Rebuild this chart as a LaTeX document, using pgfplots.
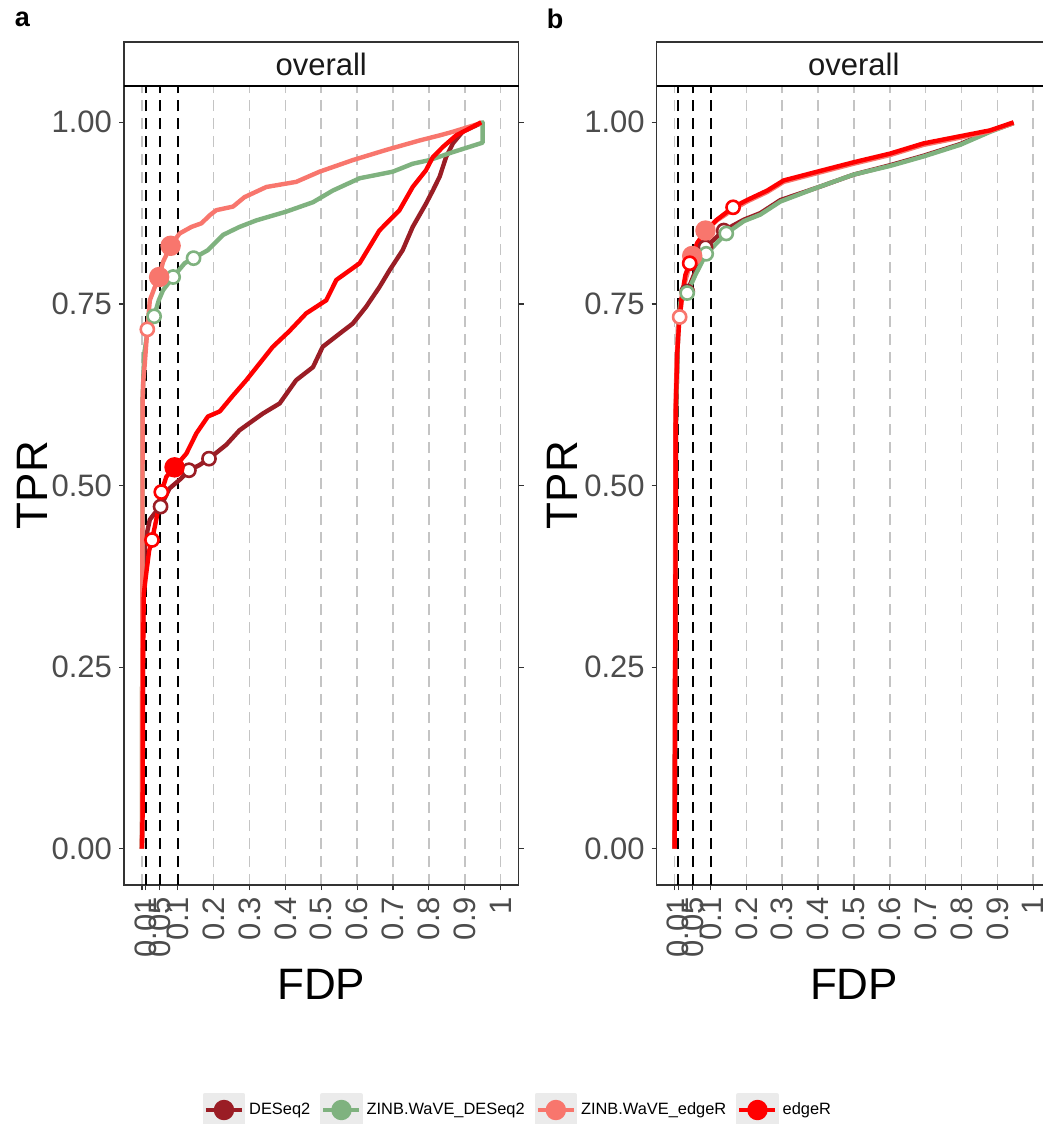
\documentclass[border=0pt]{standalone}
\usepackage{pgfplots}
\pgfplotsset{compat=1.18}
\usepackage{fontspec}
\setmainfont{Liberation Sans}
\definecolor{dR}{HTML}{9A1D25}
\definecolor{gR}{HTML}{7FB27F}
\definecolor{sA}{HTML}{F8766D}
\definecolor{rD}{HTML}{FF0000}
\definecolor{gridc}{HTML}{C4C4C4}
\definecolor{axc}{HTML}{333333}

\pgfplotsset{
  panel/.style={
    scale only axis, width=197.25pt, height=399.5pt,
    xmin=-0.05, xmax=1.05, ymin=-0.05, ymax=1.05,
    xtick={0,0.01,0.05,0.1,0.2,0.3,0.4,0.5,0.6,0.7,0.8,0.9,1},
    xticklabels={{},0.01,0.05,0.1,0.2,0.3,0.4,0.5,0.6,0.7,0.8,0.9,1},
    ytick={0,0.25,0.5,0.75,1},
    yticklabels={0.00,0.25,0.50,0.75,1.00},
    xtick pos=left, ytick pos=both, yticklabel pos=left,
    tick align=outside, major tick length=2.5pt,
    tick style={axc, line width=0.6pt},
    axis line style={axc, line width=0.6pt},
    xmajorgrids, major grid style={gridc, line width=0.8pt, dash pattern=on 5.5pt off 3.5pt},
    ticklabel style={font=\fontsize{15.5}{18}\selectfont, text=black!70},
    xticklabel style={rotate=90, anchor=east},
    every axis plot/.append style={line width=2.2pt, line join=round},
  },
  openpt/.style={only marks, mark=*, mark size=3.3pt, mark options={fill=white, line width=1.3pt}},
  fillpt/.style={only marks, mark=*, mark size=4pt},
  vthr/.style={black, line width=1pt, dash pattern=on 5.5pt off 3.5pt, forget plot},
}

\begin{document}
\begin{tikzpicture}
\fill[white] (0,0) rectangle (521.5pt,-562pt);

% ---------------- panel a ----------------
\begin{axis}[panel, at={(62pt,-442.5pt)}, anchor=south west,
  legend style={at={(1.001,-0.2816)}, anchor=center, legend columns=4, draw=none, fill=none,
    font=\fontsize{8.2}{10}\selectfont, /tikz/every even column/.append style={column sep=3pt}},
  legend image code/.code={
    \fill[black!8] (0pt,-7.5pt) rectangle (19pt,7.5pt);
    \draw[#1, line width=2pt] (0.5pt,0pt) -- (18.5pt,0pt);
    \fill[#1] (9.5pt,0pt) circle (4pt);
  }]
\addplot[vthr] coordinates {(0.01,-0.05) (0.01,1.05)};
\addplot[vthr] coordinates {(0.05,-0.05) (0.05,1.05)};
\addplot[vthr] coordinates {(0.1,-0.05) (0.1,1.05)};

% DESeq2
\addplot[dR, forget plot] coordinates {(0,0) (0.001,0.05) (0.002,0.15) (0.003,0.30) (0.005,0.38) (0.008,0.42) (0.012,0.43) (0.022,0.453) (0.036,0.462) (0.052,0.471) (0.077,0.496) (0.110,0.510) (0.131,0.521) (0.160,0.528) (0.187,0.537) (0.235,0.556) (0.272,0.576) (0.300,0.586) (0.337,0.599) (0.384,0.613) (0.430,0.645) (0.477,0.663) (0.504,0.691) (0.551,0.709) (0.588,0.723) (0.625,0.746) (0.662,0.773) (0.690,0.796) (0.727,0.824) (0.755,0.856) (0.792,0.888) (0.811,0.906) (0.830,0.925) (0.848,0.952) (0.867,0.971) (0.894,0.987) (0.946,0.999)};
% ZINB.WaVE_DESeq2
\addplot[gR, forget plot] coordinates {(0,0) (0.001,0.3) (0.002,0.62) (0.006,0.68) (0.015,0.71) (0.034,0.733) (0.047,0.755) (0.059,0.769) (0.087,0.787) (0.119,0.806) (0.144,0.813) (0.184,0.824) (0.226,0.845) (0.272,0.856) (0.319,0.865) (0.402,0.877) (0.477,0.890) (0.532,0.906) (0.607,0.923) (0.699,0.932) (0.755,0.943) (0.802,0.948) (0.867,0.959) (0.950,0.972) (0.950,1.0) (0.946,0.999)};
% ZINB.WaVE_edgeR
\addplot[sA, forget plot] coordinates {(0,0) (0.001,0.3) (0.002,0.62) (0.004,0.645) (0.008,0.668) (0.015,0.715) (0.022,0.755) (0.035,0.772) (0.048,0.787) (0.059,0.808) (0.080,0.830) (0.105,0.847) (0.138,0.856) (0.166,0.861) (0.189,0.872) (0.207,0.879) (0.254,0.884) (0.286,0.897) (0.347,0.911) (0.430,0.918) (0.495,0.932) (0.588,0.948) (0.681,0.962) (0.774,0.975) (0.830,0.982) (0.867,0.987) (0.946,0.999)};
% edgeR
\addplot[rD, forget plot] coordinates {(0,0) (0.002,0.05) (0.003,0.25) (0.005,0.35) (0.011,0.375) (0.020,0.41) (0.028,0.425) (0.040,0.453) (0.054,0.491) (0.068,0.512) (0.091,0.525) (0.124,0.544) (0.152,0.572) (0.184,0.595) (0.217,0.602) (0.254,0.624) (0.291,0.645) (0.328,0.668) (0.365,0.691) (0.410,0.712) (0.458,0.737) (0.514,0.755) (0.542,0.783) (0.607,0.806) (0.662,0.851) (0.718,0.879) (0.755,0.911) (0.792,0.934) (0.811,0.952) (0.839,0.966) (0.876,0.982) (0.946,1.0)};

% threshold points
\addplot[dR, openpt, forget plot] coordinates {(0.052,0.471) (0.131,0.521) (0.187,0.537)};
\addplot[gR, openpt, forget plot] coordinates {(0.034,0.733) (0.087,0.787) (0.144,0.813)};
\addplot[sA, openpt, forget plot] coordinates {(0.015,0.715)};
\addplot[sA, fillpt, forget plot] coordinates {(0.048,0.787) (0.080,0.830)};
\addplot[rD, openpt, forget plot] coordinates {(0.028,0.425) (0.054,0.491)};
\addplot[rD, fillpt, forget plot] coordinates {(0.091,0.525)};

\addlegendimage{dR}\addlegendentry{DESeq2}
\addlegendimage{gR}\addlegendentry{ZINB.WaVE\_DESeq2}
\addlegendimage{sA}\addlegendentry{ZINB.WaVE\_edgeR}
\addlegendimage{rD}\addlegendentry{edgeR}
\end{axis}

% ---------------- panel b ----------------
\begin{axis}[panel, at={(328.35pt,-442.5pt)}, anchor=south west]
\addplot[vthr] coordinates {(0.01,-0.05) (0.01,1.05)};
\addplot[vthr] coordinates {(0.05,-0.05) (0.05,1.05)};
\addplot[vthr] coordinates {(0.1,-0.05) (0.1,1.05)};

\addplot[dR] coordinates {(0,0) (0.002,0.3) (0.004,0.6) (0.010,0.72) (0.016,0.755) (0.035,0.767) (0.058,0.795) (0.086,0.828) (0.137,0.851) (0.193,0.866) (0.239,0.875) (0.295,0.893) (0.397,0.910) (0.499,0.928) (0.601,0.941) (0.694,0.954) (0.796,0.970) (0.880,0.988) (0.945,0.999)};
\addplot[gR] coordinates {(0,0) (0.002,0.3) (0.004,0.6) (0.010,0.72) (0.016,0.752) (0.035,0.765) (0.058,0.790) (0.088,0.819) (0.144,0.847) (0.193,0.864) (0.239,0.873) (0.295,0.891) (0.397,0.910) (0.499,0.928) (0.601,0.940) (0.694,0.953) (0.796,0.969) (0.880,0.987) (0.945,0.999)};
\addplot[sA] coordinates {(0,0) (0.001,0.3) (0.002,0.6) (0.006,0.68) (0.010,0.715) (0.014,0.732) (0.025,0.773) (0.049,0.816) (0.063,0.833) (0.086,0.851) (0.118,0.865) (0.163,0.880) (0.202,0.891) (0.258,0.904) (0.304,0.918) (0.397,0.930) (0.499,0.943) (0.601,0.955) (0.694,0.969) (0.787,0.978) (0.880,0.988) (0.945,0.999)};
\addplot[rD] coordinates {(0,0) (0.002,0.3) (0.003,0.6) (0.007,0.68) (0.012,0.72) (0.020,0.76) (0.030,0.79) (0.042,0.806) (0.063,0.834) (0.090,0.853) (0.118,0.866) (0.163,0.883) (0.202,0.893) (0.258,0.906) (0.304,0.920) (0.397,0.932) (0.499,0.945) (0.601,0.957) (0.694,0.971) (0.787,0.980) (0.880,0.989) (0.945,1.0)};

\addplot[dR, openpt] coordinates {(0.035,0.767) (0.086,0.828) (0.137,0.851)};
\addplot[gR, openpt] coordinates {(0.035,0.765) (0.088,0.819) (0.144,0.847)};
\addplot[sA, openpt] coordinates {(0.014,0.732)};
\addplot[sA, fillpt] coordinates {(0.049,0.816) (0.086,0.851)};
\addplot[rD, openpt] coordinates {(0.042,0.806) (0.163,0.883)};
\end{axis}

% strips
\draw[axc, line width=0.6pt] (62pt,-43pt) rectangle (259.25pt,-21pt);
\draw[black, line width=1pt] (62pt,-43pt) -- (259.25pt,-43pt);
\node[font=\fontsize{15.5}{18}\selectfont, text=black!90] at (160.6pt,-32pt) {overall};
\draw[axc, line width=0.6pt] (328.35pt,-43pt) rectangle (525.6pt,-21pt);
\draw[black, line width=1pt] (328.35pt,-43pt) -- (525.6pt,-43pt);
\node[font=\fontsize{15.5}{18}\selectfont, text=black!90] at (426.9pt,-32pt) {overall};

% axis titles
\node[rotate=90, font=\fontsize{22}{26}\selectfont] at (16pt,-242.5pt) {TPR};
\node[font=\fontsize{22}{26}\selectfont] at (160.6pt,-492pt) {FDP};
\node[rotate=90, font=\fontsize{22}{26}\selectfont] at (281pt,-242.5pt) {TPR};
\node[font=\fontsize{22}{26}\selectfont] at (427pt,-492pt) {FDP};

% panel tags
\node[font=\fontsize{13.5}{16}\selectfont\bfseries] at (11.25pt,-9.5pt) {a};
\node[font=\fontsize{13.5}{16}\selectfont\bfseries] at (277.5pt,-9.5pt) {b};

\pgfresetboundingbox
\useasboundingbox (0,0) rectangle (521.5pt,-562pt);
\end{tikzpicture}
\end{document}
